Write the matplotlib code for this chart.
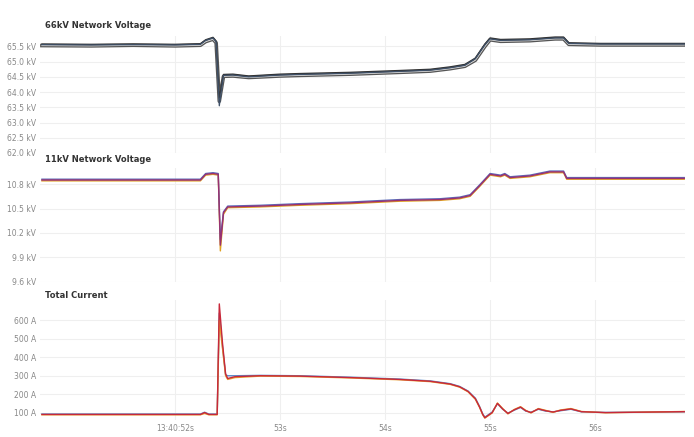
import numpy as np
import matplotlib.pyplot as plt

# time axis in seconds after 13:40:00
t_66 = [50.73, 51.20, 51.60, 52.00, 52.24, 52.29, 52.36, 52.39, 52.42, 52.46, 52.55, 52.70,
        53.00, 53.19, 53.67, 54.14, 54.43, 54.62, 54.76, 54.86, 54.95, 55.00, 55.10,
        55.38, 55.62, 55.70, 55.75, 56.05, 56.85]
v66_a = [65.56, 65.55, 65.56, 65.55, 65.57, 65.70, 65.78, 65.65, 63.55, 64.55, 64.56, 64.50,
         64.56, 64.58, 64.62, 64.68, 64.72, 64.80, 64.88, 65.10, 65.55, 65.75, 65.70,
         65.72, 65.78, 65.78, 65.60, 65.58, 65.58]
v66_b = [65.53, 65.52, 65.54, 65.52, 65.54, 65.66, 65.74, 65.62, 63.70, 64.52, 64.53, 64.48,
         64.53, 64.55, 64.59, 64.65, 64.69, 64.77, 64.85, 65.05, 65.50, 65.72, 65.67,
         65.69, 65.75, 65.75, 65.57, 65.55, 65.55]
v66_c = [65.58, 65.57, 65.58, 65.57, 65.59, 65.72, 65.80, 65.67, 63.80, 64.58, 64.59, 64.53,
         64.59, 64.61, 64.65, 64.71, 64.75, 64.83, 64.91, 65.12, 65.58, 65.78, 65.73,
         65.75, 65.81, 65.81, 65.62, 65.60, 65.60]

t_11 = [50.73, 51.50, 52.24, 52.29, 52.36, 52.41, 52.43, 52.46, 52.50, 52.81, 53.19, 53.67,
        54.14, 54.52, 54.71, 54.81, 54.90, 55.00, 55.10, 55.14, 55.19, 55.38, 55.57,
        55.70, 55.73, 56.85]
v11_a = [10.85, 10.85, 10.85, 10.92, 10.93, 10.92, 10.05, 10.45, 10.52, 10.53, 10.55, 10.57,
         10.60, 10.61, 10.63, 10.66, 10.78, 10.92, 10.90, 10.92, 10.88, 10.90, 10.95,
         10.95, 10.87, 10.87]
v11_b = [10.86, 10.86, 10.86, 10.93, 10.94, 10.93, 10.12, 10.46, 10.53, 10.54, 10.56, 10.58,
         10.61, 10.62, 10.64, 10.67, 10.79, 10.93, 10.91, 10.93, 10.89, 10.91, 10.96,
         10.96, 10.88, 10.88]
v11_c = [10.84, 10.84, 10.84, 10.91, 10.92, 10.91, 9.98, 10.43, 10.51, 10.52, 10.54, 10.56,
         10.59, 10.60, 10.62, 10.65, 10.77, 10.91, 10.89, 10.91, 10.87, 10.89, 10.94,
         10.94, 10.86, 10.86]

t_i = [50.73, 51.50, 52.24, 52.28, 52.32, 52.40, 52.42, 52.45, 52.48, 52.50, 52.57, 52.81,
       53.19, 53.67, 54.14, 54.43, 54.62, 54.71, 54.79, 54.86, 54.90, 54.93, 54.95, 55.02,
       55.07, 55.12, 55.17, 55.23, 55.29, 55.34, 55.39, 55.46, 55.53, 55.60, 55.67,
       55.77, 55.87, 56.10, 56.85]
i_a = [90, 90, 90, 100, 90, 90, 690, 480, 310, 285, 295, 300,
       298, 290, 280, 270, 255, 240, 215, 175, 130, 90, 72, 100,
       150, 120, 95, 115, 130, 110, 100, 120, 110, 103, 112,
       120, 105, 100, 105]
i_b = [92, 92, 92, 102, 92, 92, 640, 460, 305, 300, 300, 302,
       300, 292, 282, 272, 257, 242, 217, 178, 133, 93, 75, 103,
       148, 118, 97, 113, 128, 108, 102, 118, 108, 104, 110,
       118, 104, 101, 104]
i_c = [88, 88, 88, 95, 88, 88, 600, 450, 300, 280, 290, 298,
       296, 288, 278, 268, 253, 238, 213, 172, 128, 88, 70, 98,
       152, 122, 93, 117, 132, 112, 98, 122, 112, 101, 114,
       122, 106, 99, 106]

ticks_66 = [62.0, 62.5, 63.0, 63.5, 64.0, 64.5, 65.0, 65.5]
ticks_11 = [9.6, 9.9, 10.2, 10.5, 10.8]
ticks_i = [100, 200, 300, 400, 500, 600]
sec_ticks = [52, 53, 54, 55, 56]
sec_labels = ['13:40:52s', '53s', '54s', '55s', '56s']

fig = plt.figure(figsize=(6.94, 4.37), dpi=100)
left, width = 0.058, 0.929
ax1 = fig.add_axes([left, 0.650, width, 0.268])
ax2 = fig.add_axes([left, 0.355, width, 0.261])
ax3 = fig.add_axes([left, 0.039, width, 0.274])

grid_c = '#efefef'
tick_c = '#888888'

def style(ax, yt, fmt):
    for s in ax.spines.values():
        s.set_visible(False)
    ax.set_xlim(50.714, 56.857)
    ax.set_xticks(sec_ticks)
    ax.set_yticks(yt)
    ax.set_yticklabels([fmt(v) for v in yt])
    ax.tick_params(axis='both', length=0, labelsize=5.5, labelcolor=tick_c, pad=3)
    ax.grid(True, color=grid_c, linewidth=0.8)
    ax.set_axisbelow(True)

# 66kV traces: grey outlined look like the scan
ax1.plot(t_66, v66_b, color='#555555', lw=2.6)
ax1.plot(t_66, v66_b, color='#d8d8d8', lw=0.8)
ax1.plot(t_66, v66_c, color='#333333', lw=1.0)
ax1.plot(t_66, v66_a, color='#3e5068', lw=0.9)
ax1.set_ylim(62.0, 65.85)
style(ax1, ticks_66, lambda v: f'{v:.1f} kV')
ax1.set_xticklabels([])

ax2.plot(t_11, v11_c, color='#e0a020', lw=1.0)
ax2.plot(t_11, v11_b, color='#5a6ab8', lw=1.0)
ax2.plot(t_11, v11_a, color='#9a3070', lw=1.0)
ax2.set_ylim(9.6, 11.0)
style(ax2, ticks_11, lambda v: f'{v:.1f} kV')
ax2.set_xticklabels([])

ax3.plot(t_i, i_b, color='#5a8ac8', lw=1.0)
ax3.plot(t_i, i_c, color='#e8a030', lw=1.0)
ax3.plot(t_i, i_a, color='#c8283a', lw=1.0)
ax3.set_ylim(60, 710)
style(ax3, ticks_i, lambda v: f'{v:d} A')
ax3.set_xticklabels(sec_labels)

title_kw = dict(fontsize=6, fontweight='bold', color='#333333', ha='left', va='center')
fig.text(0.065, 1 - 25 / 437, '66kV Network Voltage', **title_kw)
fig.text(0.065, 1 - 160 / 437, '11kV Network Voltage', **title_kw)
fig.text(0.065, 1 - 295 / 437, 'Total Current', **title_kw)

fig.savefig('out.png', dpi=100)
